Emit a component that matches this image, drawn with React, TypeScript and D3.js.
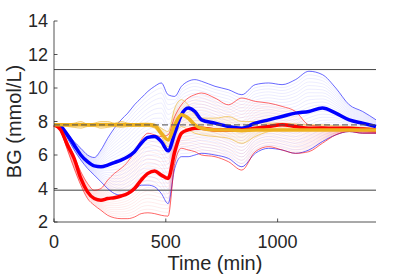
import React from "react";
import * as d3 from "d3";

const times = [0, 30, 60, 90, 120, 150, 180, 210, 240, 270, 300, 330, 360, 390, 420, 450, 480, 510, 540, 570, 600, 630, 660, 720, 780, 840, 900, 960, 1020, 1080, 1140, 1200, 1260, 1320, 1380, 1440];

const blueMean = [7.8, 7.7, 7.2, 6.6, 6.0, 5.6, 5.35, 5.3, 5.4, 5.55, 5.7, 5.9, 6.2, 6.7, 7.05, 7.1, 6.8, 6.25, 7.3, 8.4, 8.8, 8.6, 8.1, 7.9, 7.7, 7.6, 7.9, 8.1, 8.3, 8.5, 8.6, 8.8, 8.5, 8.1, 7.9, 7.7];
const blueUpper = [7.8, 7.7, 7.3, 6.8, 6.4, 6.0, 5.85, 6.3, 7.0, 7.6, 8.1, 8.5, 9.0, 9.4, 9.8, 10.1, 10.3, 9.6, 9.5, 10.1, 10.4, 10.5, 10.4, 10.1, 9.9, 9.6, 10.2, 10.3, 10.2, 10.5, 11.0, 10.8, 10.0, 9.0, 8.6, 8.1];
const blueLower = [7.8, 7.6, 7.0, 6.3, 5.7, 5.2, 4.8, 4.4, 4.0, 3.7, 3.6, 3.7, 3.9, 4.2, 4.2, 4.1, 3.7, 3.1, 5.2, 5.9, 5.9, 6.0, 6.1, 6.0, 5.8, 5.3, 6.1, 6.4, 6.3, 6.1, 6.3, 6.8, 7.2, 7.4, 7.3, 7.3];

const redMean = [7.8, 7.5, 6.6, 5.8, 4.6, 3.8, 3.4, 3.3, 3.4, 3.45, 3.55, 3.7, 4.0, 4.5, 4.9, 5.05, 4.8, 4.6, 6.2, 7.3, 7.5, 7.6, 7.6, 7.5, 7.5, 7.5, 7.6, 7.7, 7.8, 7.7, 7.6, 7.6, 7.6, 7.6, 7.55, 7.5];
const redUpper = [7.8, 7.5, 6.8, 5.9, 5.0, 4.3, 3.9, 4.0, 4.5, 4.9, 5.2, 5.6, 6.2, 6.9, 7.3, 7.2, 7.1, 7.2, 8.3, 9.0, 9.4, 9.6, 9.7, 9.4, 9.0, 9.4, 9.2, 9.1, 8.9, 8.6, 7.8, 7.7, 7.6, 7.6, 7.5, 7.4];
const redLower = [7.8, 7.4, 6.3, 5.2, 4.2, 3.4, 3.0, 2.7, 2.4, 2.25, 2.2, 2.2, 2.3, 2.5, 2.55, 2.5, 2.4, 2.35, 5.5, 6.4, 6.3, 6.2, 6.0, 5.9, 5.6, 5.1, 6.2, 6.5, 6.3, 6.1, 6.2, 6.7, 7.2, 7.4, 7.3, 7.3];

const orangeMean = [7.8, 7.8, 7.8, 7.8, 7.8, 7.8, 7.8, 7.8, 7.8, 7.8, 7.8, 7.8, 7.8, 7.8, 7.8, 7.75, 7.3, 6.9, 7.8, 8.4, 8.2, 7.8, 7.6, 7.5, 7.5, 7.45, 7.5, 7.5, 7.5, 7.5, 7.5, 7.5, 7.5, 7.5, 7.5, 7.5];
const orangeUpper = [7.8, 7.8, 7.85, 7.9, 8.0, 7.85, 7.9, 8.0, 8.0, 7.9, 8.0, 7.9, 7.85, 7.9, 7.9, 7.85, 7.6, 7.4, 8.8, 9.3, 9.0, 8.4, 8.2, 8.2, 8.3, 8.0, 8.0, 7.9, 7.9, 7.85, 7.8, 7.8, 7.75, 7.7, 7.65, 7.6];
const orangeLower = [7.8, 7.75, 7.7, 7.65, 7.6, 7.7, 7.7, 7.6, 7.65, 7.7, 7.65, 7.7, 7.7, 7.7, 7.7, 7.6, 7.1, 6.5, 7.2, 7.7, 7.5, 7.3, 7.2, 7.1, 7.0, 6.7, 7.1, 7.4, 7.5, 7.5, 7.5, 7.5, 7.5, 7.45, 7.45, 7.45];

const yTicks = [2, 4, 6, 8, 10, 12, 14];
const xTicks = [0, 500, 1000];
const hypoLevel = 3.9;
const hyperLevel = 11.1;
const targetLevel = 7.8;

const groups = [
  { color: "#0000FF", mean: blueMean, upper: blueUpper, lower: blueLower },
  { color: "#FF0000", mean: redMean, upper: redUpper, lower: redLower },
  { color: "#EDB120", mean: orangeMean, upper: orangeUpper, lower: orangeLower },
];

const W = 415, H = 277;
const X0 = 54, X1 = 376, Y0 = 222, Y1 = 21;

export default function App() {
  const x = d3.scaleLinear().domain([0, 1440]).range([X0, X1]);
  const y = d3.scaleLinear().domain([2, 14]).range([Y0, Y1]);
  const line = d3
    .line<[number, number]>()
    .x((d) => x(d[0]))
    .y((d) => y(d[1]))
    .curve(d3.curveMonotoneX);
  const toPts = (vals: number[]) => times.map((t, i) => [t, vals[i]] as [number, number]);
  const nBand = 22;
  const textColor = "#262626";
  const font = "'Liberation Sans', Arial, sans-serif";

  return (
    <svg width={W} height={H} style={{ position: "absolute", left: 0, top: 0, background: "#fff" }}>
      {groups.map((g, gi) => (
        <g key={"band" + gi}>
          {d3.range(1, nBand).map((k) => {
            const f = k / nBand;
            const vals = g.lower.map((lo, i) => lo + (g.upper[i] - lo) * f);
            return (
              <path key={k} d={line(toPts(vals)) || ""} fill="none" stroke={g.color} strokeOpacity={0.13} strokeWidth={0.6} />
            );
          })}
        </g>
      ))}
      <line x1={X0} x2={X1} y1={y(hyperLevel)} y2={y(hyperLevel)} stroke="#444" strokeWidth={1} />
      <line x1={X0} x2={X1} y1={y(hypoLevel)} y2={y(hypoLevel)} stroke="#808080" strokeWidth={1.5} />
      {groups.map((g, gi) => (
        <g key={"bnd" + gi}>
          <path d={line(toPts(g.upper)) || ""} fill="none" stroke={g.color} strokeOpacity={0.75} strokeWidth={0.8} />
          <path d={line(toPts(g.lower)) || ""} fill="none" stroke={g.color} strokeOpacity={0.75} strokeWidth={0.8} />
        </g>
      ))}
      {groups.map((g, gi) => (
        <path key={"m" + gi} d={line(toPts(g.mean)) || ""} fill="none" stroke={g.color} strokeWidth={3.5} strokeLinejoin="round" />
      ))}
      <line x1={X0} x2={X1} y1={y(targetLevel)} y2={y(targetLevel)} stroke="#555" strokeOpacity={0.85} strokeWidth={1.3} strokeDasharray="6,3" />
      <line x1={X0} x2={X0} y1={Y0} y2={Y1} stroke={textColor} strokeWidth={0.8} />
      <line x1={X0} x2={X1} y1={Y0} y2={Y0} stroke={textColor} strokeWidth={0.8} />
      {yTicks.map((t) => (
        <g key={"yt" + t}>
          <line x1={X0} x2={X0 + 3.5} y1={y(t)} y2={y(t)} stroke={textColor} strokeWidth={0.8} />
          <text x={X0 - 6} y={y(t)} dy="0.36em" textAnchor="end" fontSize={18} fontFamily={font} fill={textColor}>
            {t}
          </text>
        </g>
      ))}
      {xTicks.map((t) => (
        <g key={"xt" + t}>
          <line x1={x(t)} x2={x(t)} y1={Y0} y2={Y0 - 3.5} stroke={textColor} strokeWidth={0.8} />
          <text x={x(t)} y={Y0 + 26} textAnchor="middle" fontSize={18} fontFamily={font} fill={textColor}>
            {t}
          </text>
        </g>
      ))}
      <text x={(X0 + X1) / 2} y={270} textAnchor="middle" fontSize={20} fontFamily={font} fill={textColor}>
        Time (min)
      </text>
      <text transform={`translate(21,${(Y0 + Y1) / 2}) rotate(-90)`} textAnchor="middle" fontSize={20} fontFamily={font} fill={textColor}>
        BG (mmol/L)
      </text>
    </svg>
  );
}
